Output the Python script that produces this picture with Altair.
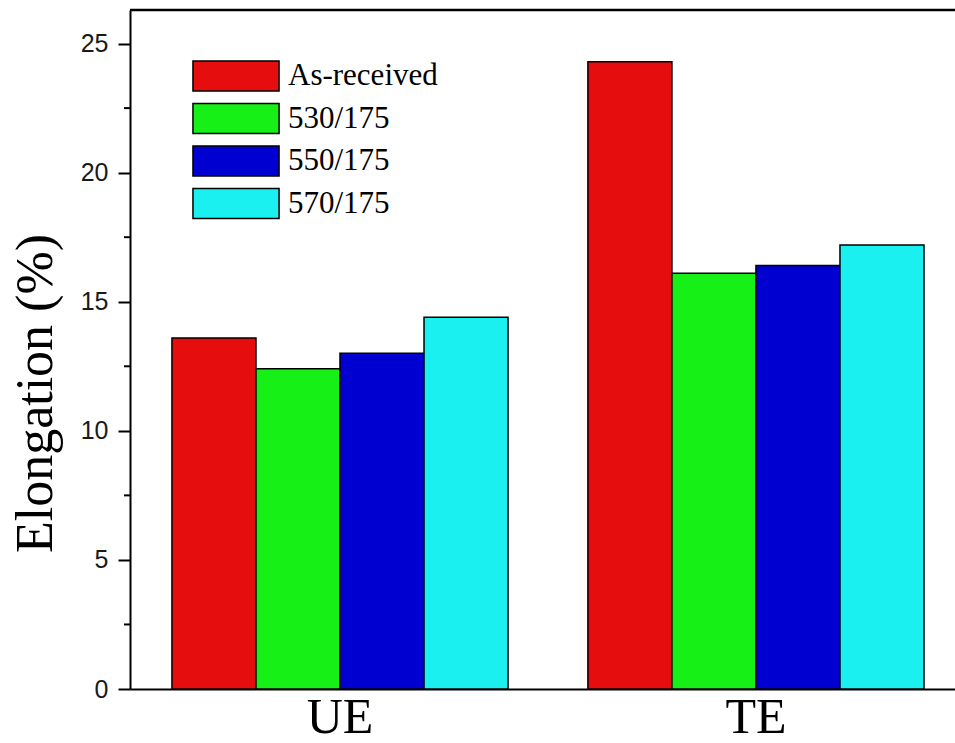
import altair as alt
import pandas as pd

groups = ["UE", "TE"]
series = ["As-received", "530/175", "550/175", "570/175"]
ue_values = [13.6, 12.4, 13.0, 14.4]
te_values = [24.3, 16.1, 16.4, 17.2]
colors = ["#E50D0D", "#17F017", "#0000D0", "#1AF0F0"]
major_ticks = [0, 5, 10, 15, 20, 25]
minor_ticks = [2.5, 7.5, 12.5, 17.5, 22.5]
y_max = 26.3

rows = []
for g, vals in zip(groups, [ue_values, te_values]):
    for s, v in zip(series, vals):
        rows.append({"group": g, "series": s, "value": v})
df = pd.DataFrame(rows)
minor_df = pd.DataFrame({"value": minor_ticks})

W, H = 825, 679

y_scale = alt.Scale(domain=[0, y_max], nice=False, zero=True)
y_axis = alt.Axis(
    values=major_ticks, title="Elongation (%)", titleFont="Liberation Serif",
    titleFontSize=52, titleFontWeight="normal", titleColor="black",
    titlePadding=18, titleY=383,
    labelFont="Liberation Sans", labelFontSize=25, labelColor="#1a1a1a",
    labelPadding=10, tickSize=12, tickWidth=2, tickColor="black",
    domainColor="black", domainWidth=2, grid=False,
)

bars = alt.Chart(df).mark_bar(stroke="black", strokeWidth=1.5).encode(
    x=alt.X(
        "group:N",
        sort=groups,
        scale=alt.Scale(paddingInner=0.192, paddingOuter=0.0877, align=0.575),
        axis=alt.Axis(
            title=None, labelAngle=0, labelFont="Liberation Serif", labelFontSize=50,
            labelColor="black", ticks=False, labelPadding=3,
            domainColor="black", domainWidth=2,
        ),
    ),
    xOffset=alt.XOffset("series:N", sort=series,
                        scale=alt.Scale(paddingInner=0, paddingOuter=0)),
    y=alt.Y("value:Q", scale=y_scale, axis=y_axis),
    color=alt.Color(
        "series:N",
        sort=series,
        scale=alt.Scale(domain=series, range=colors),
        legend=alt.Legend(
            title=None, orient="none", legendX=90, legendY=50,
            symbolType="M-2.87,-1L2.87,-1L2.87,1L-2.87,1Z", symbolSize=900,
            symbolStrokeColor="black", symbolStrokeWidth=1.5, symbolOpacity=1,
            labelFont="Liberation Serif", labelFontSize=31, labelColor="black",
            labelOffset=36, rowPadding=6.5, padding=0, labelLimit=300,
        ),
    ),
)

minor = alt.Chart(minor_df).mark_rule(color="black", strokeWidth=2).encode(
    y=alt.Y("value:Q", scale=y_scale, axis=y_axis),
    x=alt.value(-6),
    x2=alt.value(0),
)

frame = alt.Chart(pd.DataFrame({"a": [0]})).mark_rule(color="black", strokeWidth=2.5).encode(
    x=alt.value(0),
    x2=alt.value(W),
    y=alt.value(0),
)

chart = alt.layer(bars, minor, frame).properties(
    width=W,
    height=H,
    padding={"left": 130, "top": 10, "right": 0, "bottom": 54},
    autosize=alt.AutoSizeParams(type="none"),
    background="white",
).configure_view(stroke=None)

chart.save("out.html", embed_options={"renderer": "svg", "actions": False})
